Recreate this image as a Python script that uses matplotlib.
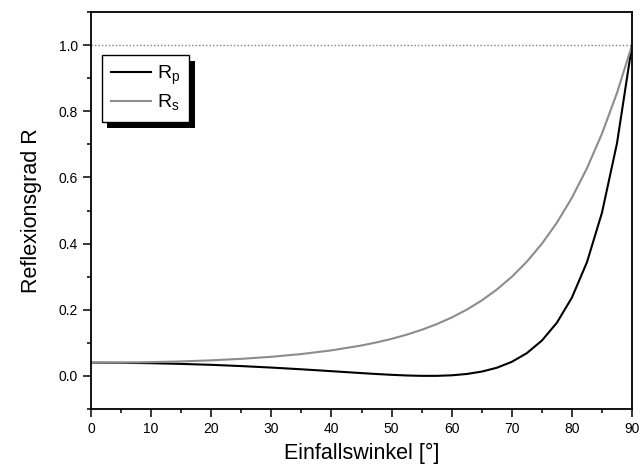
import matplotlib
matplotlib.use("Agg")
import matplotlib.pyplot as plt
from matplotlib.ticker import MultipleLocator
import matplotlib.patheffects as pe

plt.rcParams["font.family"] = ["Liberation Sans", "DejaVu Sans"]

# Einfallswinkel in Grad
winkel = [0, 5, 10, 15, 20, 25, 30, 35, 40, 45, 47.5, 50, 52.5, 55, 57.5,
          60, 62.5, 65, 67.5, 70, 72.5, 75, 77.5, 80, 82.5, 85, 87.5, 90]

# Reflexionsgrad p-polarisiert
r_p = [0.0400, 0.0396, 0.0384, 0.0363, 0.0335, 0.0297, 0.0252, 0.0200,
       0.0143, 0.0085, 0.0057, 0.0033, 0.0013, 0.0002, 0.0002, 0.0018,
       0.0058, 0.0130, 0.0246, 0.0425, 0.0688, 0.1068, 0.1607, 0.2368,
       0.3436, 0.4933, 0.7034, 1.0000]

# Reflexionsgrad s-polarisiert
r_s = [0.0400, 0.0404, 0.0417, 0.0438, 0.0471, 0.0516, 0.0578, 0.0661,
       0.0772, 0.0920, 0.1013, 0.1120, 0.1246, 0.1393, 0.1564, 0.1766,
       0.2002, 0.2281, 0.2609, 0.2996, 0.3453, 0.3994, 0.4632, 0.5386,
       0.6276, 0.7323, 0.8555, 1.0000]

fig = plt.figure(figsize=(6.41, 4.72), dpi=100)
ax = fig.add_axes([0.142, 0.1335, 0.844, 0.841])

ax.axhline(1.0, color="#808080", linestyle=(0, (1, 1.5)), linewidth=1.0)
ax.plot(winkel, r_p, color="black", linewidth=1.5, label=r"R$_\mathregular{p}$")
ax.plot(winkel, r_s, color="#8c8c8c", linewidth=1.5, label=r"R$_\mathregular{s}$")

ax.set_xlim(0, 90)
ax.set_ylim(-0.1, 1.1)
ax.xaxis.set_major_locator(MultipleLocator(10))
ax.xaxis.set_minor_locator(MultipleLocator(5))
ax.yaxis.set_minor_locator(MultipleLocator(0.1))
ax.set_yticks([0.0, 0.2, 0.4, 0.6, 0.8, 1.0])
ax.set_yticklabels(["0.0", "0.2", "0.4", "0.6", "0.8", "1.0"])

ax.tick_params(which="major", direction="out", length=6, width=1.1, labelsize=10)
ax.tick_params(which="minor", direction="out", length=3, width=1.1)
for s in ax.spines.values():
    s.set_linewidth(1.3)

ax.set_xlabel("Einfallswinkel [°]", fontsize=15.5, labelpad=5)
ax.set_ylabel("Reflexionsgrad R", fontsize=15.5, labelpad=12)

leg = ax.legend(loc="upper left", bbox_to_anchor=(0.020, 0.892), fontsize=14,
                fancybox=False, edgecolor="black", framealpha=1,
                handlelength=2.1, borderpad=0.45, labelspacing=0.3,
                handletextpad=0.3, borderaxespad=0)
frame = leg.get_frame()
frame.set_linewidth(1.0)
frame.set_path_effects([
    pe.SimplePatchShadow(offset=(4, -4.5), shadow_rgbFace="black", alpha=1.0),
    pe.Normal(),
])

fig.savefig("out.png", dpi=100)
